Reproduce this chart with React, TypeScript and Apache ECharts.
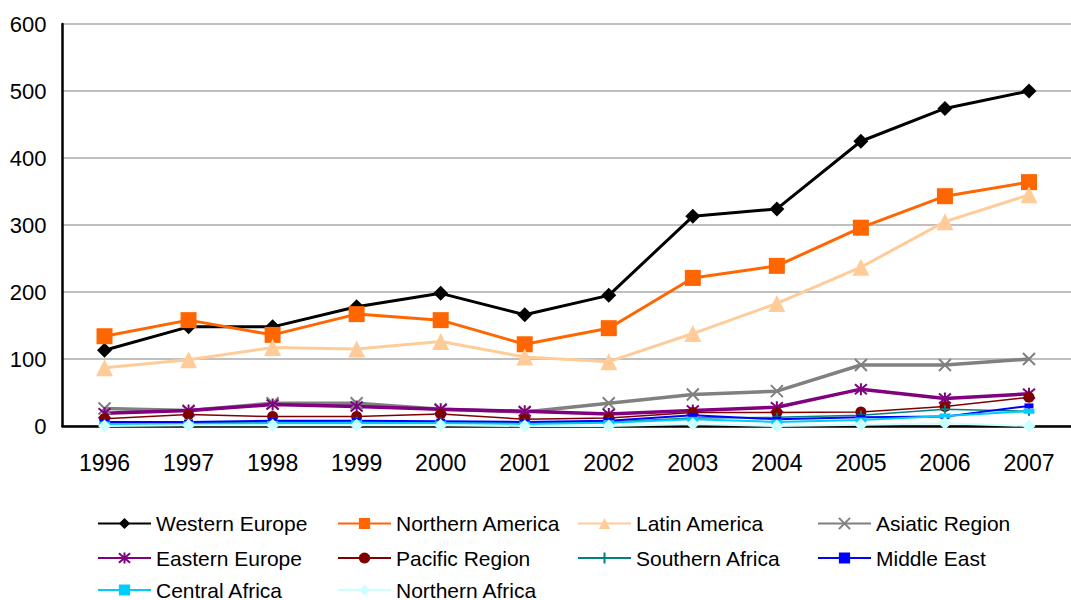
import React, { useEffect, useRef } from "react";
import * as echarts from "echarts";

const years = ["1996", "1997", "1998", "1999", "2000", "2001", "2002", "2003", "2004", "2005", "2006", "2007"];
const yTicks = [0, 100, 200, 300, 400, 500, 600];

const westernEurope = [113, 148, 148, 178, 198, 166, 195, 313, 324, 425, 474, 500];
const northernAmerica = [134, 158, 136, 167, 158, 122, 146, 221, 239, 296, 343, 364];
const latinAmerica = [87, 99, 117, 115, 126, 103, 96, 138, 183, 237, 305, 345];
const asiaticRegion = [26, 23, 34, 34, 25, 21, 34, 47, 52, 91, 91, 100];
const easternEurope = [19, 23, 32, 29, 25, 22, 18, 23, 28, 55, 41, 48];
const pacificRegion = [11, 17, 14, 14, 18, 10, 12, 20, 20, 21, 29, 43];
const southernAfrica = [4, 5, 6, 7, 6, 5, 6, 12, 13, 16, 25, 22];
const middleEast = [6, 6, 8, 8, 7, 6, 8, 16, 10, 13, 14, 30];
const centralAfrica = [3, 3, 4, 5, 4, 3, 5, 10, 6, 9, 15, 22];
const northernAfrica = [0, 1, 1, 1, 1, 0, 0, 3, 0, 2, 4, 0];

const seriesNames = [
  "Western Europe", "Northern America", "Latin America", "Asiatic Region",
  "Eastern Europe", "Pacific Region", "Southern Africa", "Middle East",
  "Central Africa", "Northern Africa",
];

const CROSS = "path://M0,0L10,10M10,0L0,10";
const STAR = "path://M0,0L10,10M10,0L0,10M5,-1L5,11";
const PLUS = "path://M5,0L5,10M0,5L10,5";

export default function App() {
  const ref = useRef<HTMLDivElement>(null);
  useEffect(() => {
    if (!ref.current) return;
    const chart = echarts.init(ref.current, undefined, { renderer: "svg" });
    const font = "Arial, 'Liberation Sans', sans-serif";
    const mk = (name: string, data: number[], color: string, width: number, symbol: string, size: any, stroke = false) => ({
      name,
      type: "line",
      data,
      symbol,
      symbolSize: size,
      showSymbol: true,
      lineStyle: { color, width },
      itemStyle: stroke ? { color, borderColor: color, borderWidth: 2 } : { color, borderWidth: 0 },
      emphasis: { disabled: true },
    });
    const series = [
      mk(seriesNames[0], westernEurope, "#000000", 3, "diamond", 15),
      mk(seriesNames[1], northernAmerica, "#FF6600", 3, "rect", 16),
      mk(seriesNames[2], latinAmerica, "#FFCC99", 3, "triangle", 17),
      mk(seriesNames[3], asiaticRegion, "#808080", 3.5, CROSS, 12, true),
      mk(seriesNames[4], easternEurope, "#800080", 3.5, STAR, 12, true),
      mk(seriesNames[5], pacificRegion, "#800000", 1.5, "circle", 11),
      mk(seriesNames[6], southernAfrica, "#008080", 1.5, PLUS, 9, true),
      mk(seriesNames[7], middleEast, "#0000FF", 2, "rect", [9, 5]),
      mk(seriesNames[8], centralAfrica, "#00CCFF", 2, "rect", [11, 5]),
      mk(seriesNames[9], northernAfrica, "#CCFFFF", 2, "diamond", 13),
    ];
    const legendOrder = [
      [seriesNames[0], seriesNames[1], seriesNames[2], seriesNames[3]],
      [seriesNames[4], seriesNames[5], seriesNames[6], seriesNames[7]],
      [seriesNames[8], seriesNames[9]],
    ];
    const rowTops = [513, 547.5, 579.5];
    const legends: any[] = [];
    legendOrder.forEach((row, r) => {
      row.forEach((name, c) => {
        legends.push({
          data: [name],
          orient: "horizontal",
          left: 97 + c * 240,
          top: rowTops[r],
          padding: 0,
          itemWidth: 53,
          itemHeight: 14,
          itemGap: 0,
          selectedMode: false,
          textStyle: { fontSize: 21, color: "#000", fontFamily: font, lineHeight: 18 },
        });
      });
    });
    chart.setOption({
      animation: false,
      backgroundColor: "#fff",
      textStyle: { fontFamily: font },
      grid: { left: 62.5, top: 24, width: 1020, height: 402 },
      legend: legends,
      xAxis: {
        type: "category",
        data: years,
        boundaryGap: true,
        axisLine: { lineStyle: { color: "#000", width: 2.5 } },
        axisTick: { show: false },
        axisLabel: { fontSize: 23, color: "#000", margin: 25, fontFamily: font },
      },
      yAxis: {
        type: "value",
        min: yTicks[0],
        max: yTicks[yTicks.length - 1],
        interval: 100,
        axisLine: { show: true, lineStyle: { color: "#000", width: 2.5 } },
        axisTick: { show: false },
        splitLine: { lineStyle: { color: "#C0C0C0", width: 2 } },
        axisLabel: { fontSize: 22, color: "#000", margin: 16, fontFamily: font },
      },
      series,
    });
    return () => chart.dispose();
  }, []);
  return <div ref={ref} style={{ position: "fixed", left: 0, top: 0, width: 1071, height: 600 }} />;
}
